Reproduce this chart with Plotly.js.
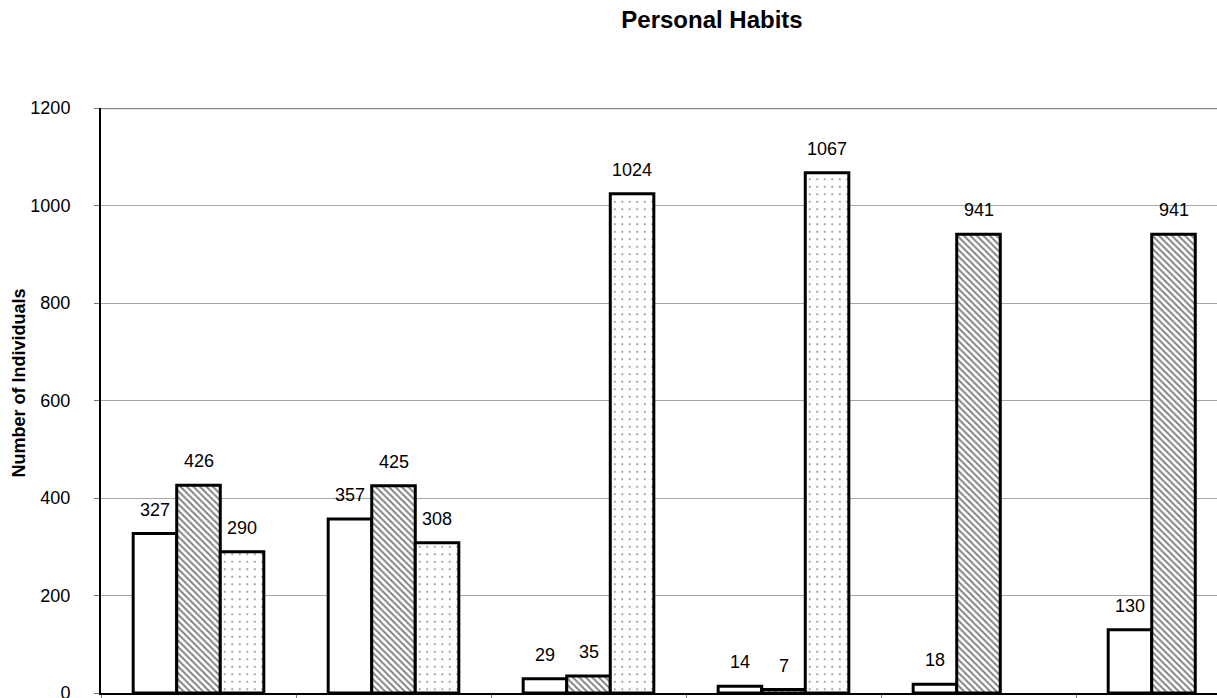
<!DOCTYPE html>
<html>
<head>
<meta charset="utf-8">
<script src="https://cdn.plot.ly/plotly-3.0.1.min.js"></script>
<style>
html, body { margin: 0; padding: 0; overflow: hidden; background: #fff; }
#chart { width: 1300px; height: 800px; }
</style>
</head>
<body>
<div id="chart"></div>
<script>
// ---- data ----
const categories = ["Smoking", "Alcohol", "Tobacco Chewing", "Drug Use", "Exercise", "Vegetarian Diet"];
const seriesNames = ["Yes", "No", "Not Recorded"];
const seriesYes = [327, 357, 29, 14, 18, 130];
const seriesNo = [426, 425, 35, 7, 941, 941];
const seriesUnknown = [290, 308, 1024, 1067, null, null];
const yTicks = [0, 200, 400, 600, 800, 1000, 1200];

const FONT = "Liberation Sans, Arial, sans-serif";
const allSeries = [seriesYes, seriesNo, seriesUnknown];
const patterns = [
  { shape: "", bgcolor: "#ffffff" },
  { shape: "\\", size: 4.6, solidity: 0.4, fgcolor: "#000000", bgcolor: "#ffffff", fillmode: "overlay" },
  { shape: ".", size: 7.5, solidity: 0.05, fgcolor: "#000000", bgcolor: "#ffffff", fillmode: "overlay" }
];

const traces = allSeries.map((vals, i) => ({
  type: "bar",
  name: seriesNames[i],
  x: categories,
  y: vals,
  marker: {
    color: "#ffffff",
    line: { color: "#000000", width: 3 },
    pattern: patterns[i]
  },
  hoverinfo: "x+y+name"
}));

// data labels, one per bar, placed through the axes
const barShift = [-43.5, 0, 43.5];
const annotations = [];
allSeries.forEach((vals, i) => {
  vals.forEach((v, j) => {
    if (v === null || v === undefined) return;
    annotations.push({
      x: categories[j], y: v, xref: "x", yref: "y",
      text: String(v), showarrow: false,
      xshift: barShift[i], yshift: 24,
      font: { family: FONT, size: 18, color: "#000" }
    });
  });
});
annotations.push({
  text: "<b>Number of Individuals</b>", textangle: -90, showarrow: false,
  xref: "paper", yref: "paper", x: 0, y: 0.529, xanchor: "center", yanchor: "middle",
  xshift: -82, font: { family: FONT, size: 18, color: "#000" }
});

const layout = {
  width: 1300, height: 800,
  margin: { l: 101, r: 29, t: 108, b: 107 },
  paper_bgcolor: "#ffffff", plot_bgcolor: "#ffffff",
  font: { family: FONT, size: 18, color: "#000" },
  title: {
    text: "<b>Personal Habits</b>",
    font: { family: FONT, size: 24, color: "#000" },
    xref: "container", x: 712 / 1300, xanchor: "center",
    yref: "container", y: 1 - 20 / 800, yanchor: "middle"
  },
  barmode: "group", bargap: 0.33, bargroupgap: 0,
  showlegend: false,
  xaxis: {
    type: "category",
    showgrid: false, zeroline: false,
    showline: true, linecolor: "#000", linewidth: 2,
    ticks: "outside", tickson: "boundaries", ticklen: 6, tickcolor: "#777", tickwidth: 1,
    showticklabels: false
  },
  yaxis: {
    range: [0, 1200], tickvals: yTicks, ticktext: yTicks.map(String),
    showgrid: true, gridcolor: "#a6a6a6", gridwidth: 1,
    zeroline: false,
    showline: true, linecolor: "#000", linewidth: 2,
    ticks: "outside", ticklen: 5, tickcolor: "#777", tickwidth: 1,
    ticklabelstandoff: 20,
    tickfont: { family: FONT, size: 18, color: "#000" }
  },
  shapes: [{
    type: "line", xref: "paper", yref: "y", x0: 0, x1: 1, y0: 1200, y1: 1200,
    line: { color: "#8c8c8c", width: 2.5 }, layer: "above"
  }],
  annotations: annotations
};

Plotly.newPlot("chart", traces, layout, { displayModeBar: false, staticPlot: true });
</script>
</body>
</html>
